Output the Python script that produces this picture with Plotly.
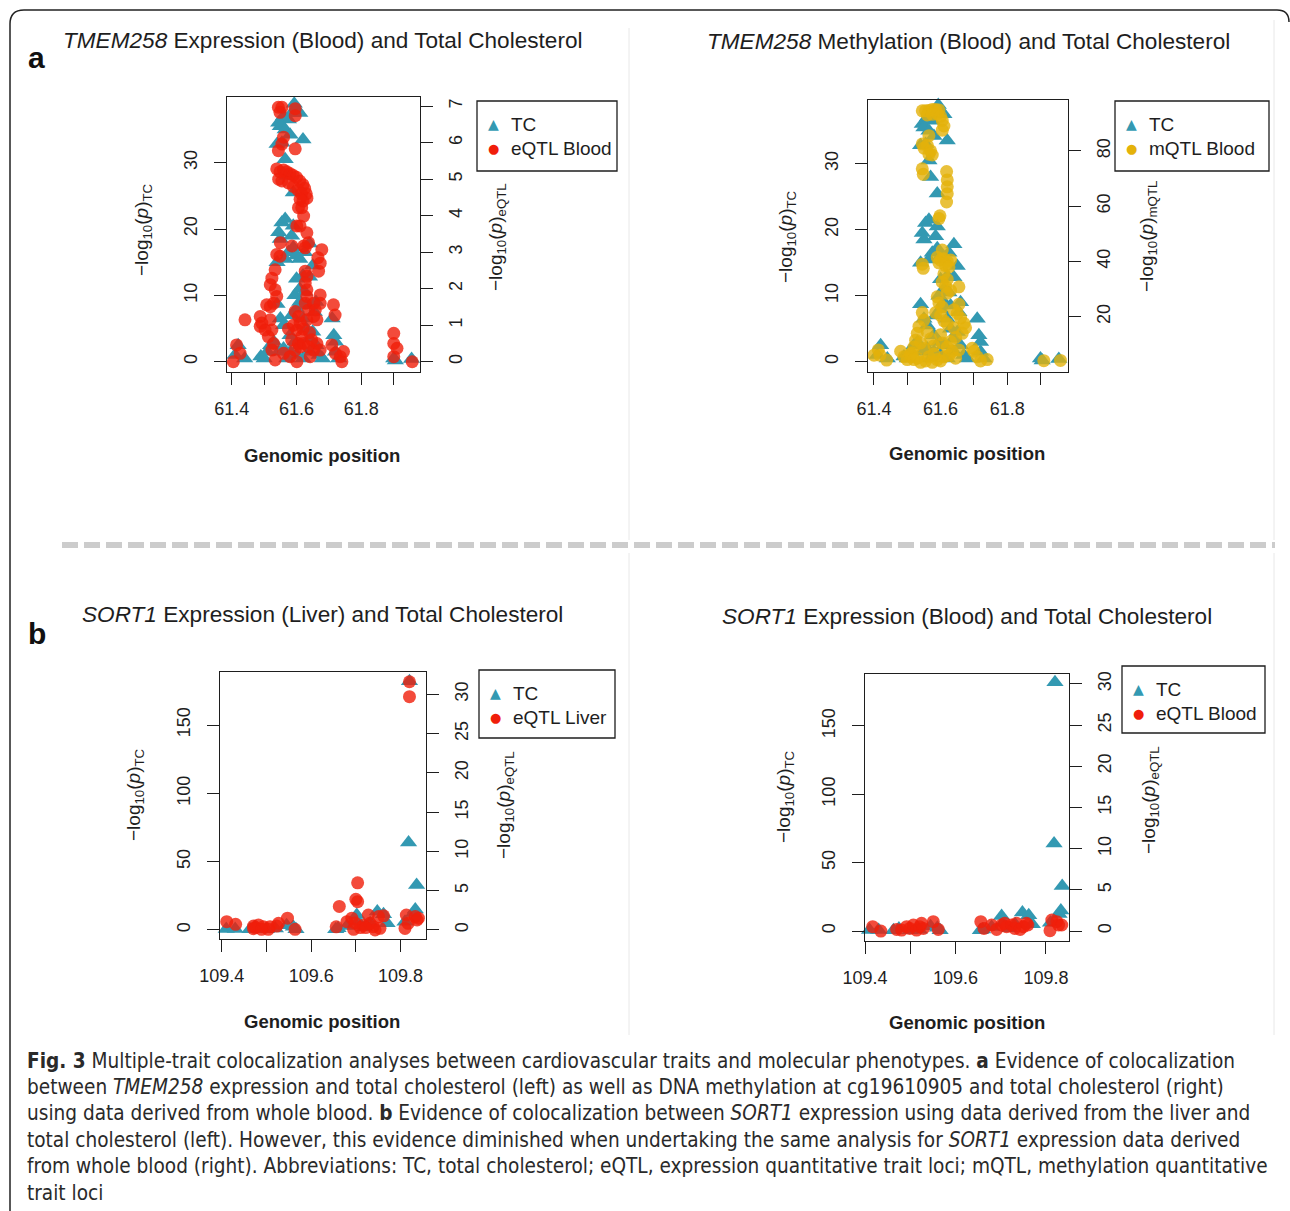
import plotly.graph_objects as go

W, H = 1290, 1211
def X(px): return px / W
def Y(py): return 1 - py / H

FONT = "Liberation Sans, Arial, Helvetica, sans-serif"
CAPFONT = "DejaVu Sans Condensed, Liberation Sans Narrow, sans-serif"
TEAL = "#3399B2"
RED = "#F01E0A"
GOLD = "#E4B20A"
INK = "#1e1e1e"

# ---------------- data ----------------
# TMEM258 region (chr position in Mb), total cholesterol -log10(p)
tmem_tc_pos = [61.593, 61.600, 61.585, 61.560, 61.575, 61.545, 61.550, 61.565, 61.580, 61.610,
               61.620, 61.540, 61.555, 61.565, 61.570, 61.590, 61.555, 61.565, 61.545, 61.550,
               61.590, 61.585, 61.590, 61.575, 61.565, 61.540, 61.600, 61.610, 61.625, 61.640,
               61.650, 61.620, 61.600, 61.640, 61.595, 61.610, 61.600, 61.540, 61.630, 61.655,
               61.660, 61.585, 61.620, 61.550, 61.560, 61.630, 61.650, 61.710, 61.715, 61.720,
               61.720, 61.730, 61.420, 61.410, 61.440, 61.490, 61.500, 61.510, 61.520, 61.530,
               61.545, 61.560, 61.570, 61.580, 61.595, 61.600, 61.610, 61.620, 61.640, 61.660,
               61.670, 61.680, 61.900, 61.905, 61.955, 61.640, 61.580, 61.610, 61.625]
tmem_tc_val = [38.9, 38.0, 37.5, 37.0, 36.5, 36.0, 35.5, 35.0, 34.2, 37.5,
               33.5, 32.8, 33.0, 30.5, 28.0, 25.5, 21.0, 21.5, 19.5, 18.5,
               20.5, 19.0, 17.2, 16.5, 15.5, 15.0, 16.0, 15.5, 16.5, 17.8,
               14.5, 13.0, 12.5, 12.8, 10.0, 9.0, 8.0, 8.7, 8.5, 7.5,
               9.0, 7.0, 6.5, 6.5, 5.5, 5.0, 4.5, 6.5, 4.0, 3.0,
               1.5, 0.5, 2.5, 1.0, 0.5, 0.8, 0.5, 1.5, 2.5, 3.0,
               1.5, 2.0, 0.5, 1.5, 3.0, 1.0, 2.5, 0.5, 1.5, 2.5,
               1.0, 0.5, 0.5, 0.2, 0.4, 3.5, 4.0, 11.0, 10.5]

# TMEM258 eQTL (blood) -log10(p)
tmem_eqtl_pos = [61.544, 61.555, 61.549, 61.596, 61.596, 61.560, 61.555, 61.544, 61.596, 61.539,
                 61.549, 61.560, 61.570, 61.580, 61.590, 61.600, 61.610, 61.620, 61.625, 61.630,
                 61.632, 61.545, 61.555, 61.575, 61.590, 61.605, 61.615, 61.620, 61.611, 61.616,
                 61.606, 61.622, 61.601, 61.611, 61.632, 61.637, 61.627, 61.678, 61.673, 61.668,
                 61.666, 61.550, 61.539, 61.534, 61.524, 61.519, 61.534, 61.539, 61.529, 61.508,
                 61.519, 61.627, 61.632, 61.627, 61.632, 61.632, 61.627, 61.637, 61.653, 61.658,
                 61.673, 61.673, 61.653, 61.632, 61.663, 61.596, 61.606, 61.611, 61.601, 61.616,
                 61.606, 61.488, 61.493, 61.488, 61.503, 61.519, 61.524, 61.513, 61.529, 61.524,
                 61.534, 61.441, 61.415, 61.426, 61.405, 61.560, 61.580, 61.601, 61.596, 61.611,
                 61.622, 61.637, 61.647, 61.653, 61.663, 61.673, 61.642, 61.709, 61.714, 61.719,
                 61.720, 61.735, 61.745, 61.740, 61.900, 61.900, 61.910, 61.900, 61.957, 61.549,
                 61.586, 61.622, 61.585, 61.590, 61.575, 61.620, 61.640]
tmem_eqtl_val = [6.97, 6.97, 6.83, 6.93, 6.74, 6.15, 5.96, 5.78, 5.83, 5.28,
                 5.20, 5.25, 5.20, 5.15, 5.10, 5.05, 4.95, 4.85, 4.75, 4.60,
                 4.48, 5.00, 4.95, 4.90, 4.80, 4.70, 4.60, 4.40, 4.45, 4.22,
                 4.22, 3.99, 3.72, 3.72, 3.53, 3.26, 3.12, 3.07, 2.70, 2.48,
                 2.85, 3.26, 2.94, 2.52, 2.29, 2.11, 1.97, 1.79, 1.60, 1.56,
                 1.51, 2.48, 2.34, 2.16, 1.97, 1.79, 1.60, 1.42, 1.60, 1.42,
                 1.83, 1.60, 1.24, 1.15, 1.15, 1.38, 1.24, 1.06, 0.87, 0.69,
                 0.50, 1.24, 1.06, 0.97, 0.87, 1.15, 0.87, 0.69, 0.50, 0.32,
                 0.05, 1.15, 0.46, 0.23, 0.00, 0.23, 0.14, 0.00, 0.32, 0.41,
                 0.50, 0.41, 0.60, 0.32, 0.50, 0.32, 0.14, 0.46, 1.56, 1.28,
                 0.23, 0.14, 0.28, 0.00, 0.78, 0.50, 0.37, 0.14, 0.00, 2.89,
                 3.17, 3.17, 0.60, 1.00, 0.90, 0.90, 0.80]

# TMEM258 mQTL (blood, cg19610905) -log10(p)
tmem_mqtl_pos = [61.545, 61.555, 61.565, 61.575, 61.585, 61.595, 61.560, 61.575, 61.590, 61.600,
                 61.605, 61.610, 61.605, 61.565, 61.545, 61.550, 61.560, 61.570, 61.575, 61.565,
                 61.545, 61.548, 61.618, 61.620, 61.620, 61.620, 61.618, 61.598, 61.595, 61.605,
                 61.590, 61.600, 61.610, 61.620, 61.630, 61.595, 61.615, 61.625, 61.545, 61.548,
                 61.610, 61.620, 61.605, 61.615, 61.630, 61.620, 61.655, 61.590, 61.595, 61.605,
                 61.600, 61.610, 61.585, 61.620, 61.650, 61.660, 61.670, 61.675, 61.665, 61.640,
                 61.645, 61.630, 61.600, 61.605, 61.580, 61.570, 61.550, 61.545, 61.535, 61.530,
                 61.525, 61.520, 61.515, 61.510, 61.413, 61.418, 61.438, 61.400, 61.480, 61.490,
                 61.500, 61.510, 61.520, 61.530, 61.540, 61.555, 61.565, 61.575, 61.590, 61.600,
                 61.610, 61.625, 61.635, 61.645, 61.655, 61.695, 61.700, 61.710, 61.720, 61.740,
                 61.910, 61.960, 61.540, 61.550, 61.560, 61.580, 61.620, 61.640, 61.655]
tmem_mqtl_val = [94.5, 94.5, 94.6, 95.0, 95.0, 94.8, 93.0, 93.2, 93.5, 92.5,
                 91.0, 89.0, 87.5, 85.5, 82.5, 81.0, 82.0, 80.0, 78.5, 78.8,
                 73.5, 71.5, 72.5, 69.5, 67.0, 64.5, 61.5, 56.5, 55.5, 44.1,
                 41.5, 40.5, 41.0, 40.0, 40.5, 39.5, 38.5, 38.0, 39.0, 37.5,
                 35.5, 33.5, 32.5, 31.0, 29.5, 28.5, 30.8, 27.2, 25.0, 23.5,
                 20.5, 18.5, 21.5, 17.5, 21.2, 19.5, 17.6, 16.0, 14.0, 16.0,
                 12.5, 11.0, 13.5, 10.5, 9.5, 12.0, 18.8, 21.5, 16.5, 14.0,
                 11.5, 9.0, 7.0, 5.5, 8.0, 6.1, 4.3, 6.1, 7.5, 5.5,
                 4.5, 6.5, 4.5, 5.0, 3.5, 4.0, 5.5, 3.5, 4.5, 4.0,
                 5.5, 6.0, 7.5, 5.0, 8.0, 8.6, 7.5, 5.5, 4.0, 4.5,
                 4.1, 4.2, 10.5, 8.5, 14.5, 6.5, 9.0, 22.5, 24.5]

# SORT1 region, total cholesterol -log10(p)
sort_tc_pos = [109.410, 109.430, 109.463, 109.475, 109.500, 109.520, 109.545, 109.560, 109.566, 109.655,
               109.660, 109.680, 109.702, 109.705, 109.720, 109.732, 109.748, 109.762, 109.770, 109.810,
               109.818, 109.820, 109.829, 109.833, 109.836]
sort_tc_val = [0.8, 0.8, 0.5, 1.8, 0.5, 1.0, 3.5, 2.4, 0.5, 0.5,
               1.2, 3.0, 11.0, 6.0, 2.0, 4.9, 13.5, 11.5, 5.0, 6.0,
               64.0, 182.0, 12.5, 15.0, 33.0]

# SORT1 eQTL (liver)
sort_liver_pos = [109.820, 109.820, 109.704, 109.700, 109.704, 109.663, 109.547, 109.411, 109.431, 109.471,
                  109.475, 109.482, 109.493, 109.508, 109.523, 109.527, 109.471, 109.504, 109.489, 109.564,
                  109.656, 109.680, 109.691, 109.695, 109.717, 109.728, 109.732, 109.739, 109.743, 109.751,
                  109.754, 109.762, 109.813, 109.833, 109.837, 109.840, 109.810, 109.817, 109.698, 109.710,
                  109.722]
sort_liver_val = [31.6, 29.7, 6.0, 3.9, 3.6, 3.0, 1.5, 1.06, 0.72, 0.50,
                  0.30, 0.64, 0.42, 0.42, 0.50, 0.85, 0.17, 0.08, 0.08, 0.08,
                  0.40, 1.06, 1.50, 0.08, 0.60, 1.90, 0.85, 0.42, 0.00, 1.70,
                  0.21, 1.80, 1.90, 1.70, 1.27, 1.50, 0.20, 0.85, 0.90, 0.30,
                  0.30]

# SORT1 eQTL (blood)
sort_blood_pos = [109.417, 109.435, 109.470, 109.481, 109.492, 109.499, 109.507, 109.514, 109.521, 109.529,
                  109.525, 109.551, 109.562, 109.656, 109.663, 109.680, 109.691, 109.702, 109.709, 109.713,
                  109.724, 109.731, 109.735, 109.743, 109.750, 109.757, 109.760, 109.809, 109.813, 109.824,
                  109.828, 109.835]
sort_blood_val = [0.53, 0.00, 0.20, 0.12, 0.53, 0.32, 0.73, 0.12, 0.53, 0.32,
                  0.93, 1.13, 0.20, 1.13, 0.32, 0.73, 0.20, 0.73, 0.93, 0.53,
                  0.73, 0.32, 0.93, 0.20, 0.53, 0.93, 0.73, 0.04, 1.34, 1.13,
                  0.73, 0.73]

tmem_xticks = [61.4, 61.5, 61.6, 61.7, 61.8, 61.9]
tmem_xlabels = ["61.4", "", "61.6", "", "61.8", ""]
sort_xticks = [109.4, 109.5, 109.6, 109.7, 109.8]
sort_xlabels = ["109.4", "", "109.6", "", "109.8"]

panels = [
    dict(box=(227, 420, 97, 372), xr=[61.3855, 61.981], xt=tmem_xticks, xl=tmem_xlabels,
         yl=[-1.55, 39.9], ylt=[0, 10, 20, 30], yr=[-0.28, 7.25], yrt=[0, 1, 2, 3, 4, 5, 6, 7],
         tc=(tmem_tc_pos, tmem_tc_val), q=(tmem_eqtl_pos, tmem_eqtl_val), qcol=RED,
         title="<i>TMEM258</i> Expression (Blood) and Total Cholesterol", tpos=(323, 40),
         rlab="eQTL", ltitle=(143, 230), rtitle=(497, 237), gpos=(322, 455),
         leg=(477, 617, 101, 171), legname="eQTL Blood"),
    dict(box=(868, 1068, 100, 372), xr=[61.382, 61.9826], xt=tmem_xticks, xl=tmem_xlabels,
         yl=[-1.56, 39.65], ylt=[0, 10, 20, 30], yr=[0.0, 98.4], yrt=[20, 40, 60, 80],
         tc=(tmem_tc_pos, tmem_tc_val), q=(tmem_mqtl_pos, tmem_mqtl_val), qcol=GOLD,
         title="<i>TMEM258</i> Methylation (Blood) and Total Cholesterol", tpos=(968, 42),
         rlab="mQTL", ltitle=(787, 237), rtitle=(1148, 237), gpos=(967, 453),
         leg=(1115, 1269, 101, 171), legname="mQTL Blood"),
    dict(box=(220, 426, 672, 939), xr=[109.396, 109.857], xt=sort_xticks, xl=sort_xlabels,
         yl=[-6.6, 188.8], ylt=[0, 50, 100, 150], yr=[-1.15, 32.84], yrt=[0, 5, 10, 15, 20, 25, 30],
         tc=(sort_tc_pos, sort_tc_val), q=(sort_liver_pos, sort_liver_val), qcol=RED,
         title="<i>SORT1</i> Expression (Liver) and Total Cholesterol", tpos=(322, 614),
         rlab="eQTL", ltitle=(135, 795), rtitle=(505, 805), gpos=(322, 1021),
         leg=(479, 615, 670, 738), legname="eQTL Liver"),
    dict(box=(865, 1069, 674, 941), xr=[109.4, 109.851], xt=sort_xticks, xl=sort_xlabels,
         yl=[-7.3, 188.0], ylt=[0, 50, 100, 150], yr=[-1.21, 31.2], yrt=[0, 5, 10, 15, 20, 25, 30],
         tc=(sort_tc_pos, sort_tc_val), q=(sort_blood_pos, sort_blood_val), qcol=RED,
         title="<i>SORT1</i> Expression (Blood) and Total Cholesterol", tpos=(967, 616),
         rlab="eQTL", ltitle=(785, 797), rtitle=(1150, 800), gpos=(967, 1022),
         leg=(1122, 1265, 666, 733), legname="eQTL Blood"),
]

fig = go.Figure()
layout = {}
annotations = []
shapes = []

tickfont = dict(family=FONT, size=18, color=INK)

for i, p in enumerate(panels):
    l, r, t, b = p["box"]
    xn = "xaxis" if i == 0 else f"xaxis{i+1}"
    xref = "x" if i == 0 else f"x{i+1}"
    yl_idx, yr_idx = 2 * i + 1, 2 * i + 2
    yln = "yaxis" if yl_idx == 1 else f"yaxis{yl_idx}"
    ylref = "y" if yl_idx == 1 else f"y{yl_idx}"
    yrn = f"yaxis{yr_idx}"
    yrref = f"y{yr_idx}"

    layout[xn] = dict(domain=[X(l), X(r)], range=p["xr"], anchor=ylref, automargin=False,
                      tickmode="array", tickvals=p["xt"], ticktext=p["xl"],
                      ticks="outside", ticklen=12, tickwidth=1.2, tickcolor=INK,
                      showline=True, linecolor=INK, linewidth=1.2, mirror=True,
                      showgrid=False, zeroline=False, tickfont=tickfont,
                      ticklabelstandoff=8)
    layout[yln] = dict(domain=[Y(b), Y(t)], range=p["yl"], anchor=xref, side="left",
                       automargin=False,
                       tickmode="array", tickvals=p["ylt"], tickangle=-90,
                       ticks="outside", ticklen=12, tickwidth=1.2, tickcolor=INK,
                       showline=True, linecolor=INK, linewidth=1.2, mirror=True,
                       showgrid=False, zeroline=False, tickfont=tickfont,
                       ticklabelstandoff=10)
    layout[yrn] = dict(overlaying=ylref, anchor=xref, side="right", range=p["yr"],
                       automargin=False,
                       tickmode="array", tickvals=p["yrt"], tickangle=-90,
                       ticks="outside", ticklen=12, tickwidth=1.2, tickcolor=INK,
                       showline=False, showgrid=False, zeroline=False, tickfont=tickfont,
                       ticklabelstandoff=7)

    fig.add_trace(go.Scatter(x=p["tc"][0], y=p["tc"][1], mode="markers",
                             marker=dict(symbol="triangle-up", size=15, color=TEAL,
                                         line=dict(width=0)),
                             xaxis=xref, yaxis=ylref, showlegend=False, cliponaxis=False,
                             name="TC"))
    fig.add_trace(go.Scatter(x=p["q"][0], y=p["q"][1], mode="markers",
                             marker=dict(symbol="circle", size=13, color=p["qcol"],
                                         opacity=0.8, line=dict(width=0)),
                             xaxis=xref, yaxis=yrref, showlegend=False, cliponaxis=False,
                             name=p["legname"]))

    # titles
    annotations.append(dict(text=p["title"], x=X(p["tpos"][0]), y=Y(p["tpos"][1]),
                            xref="paper", yref="paper", showarrow=False,
                            xanchor="center", yanchor="middle",
                            font=dict(family=FONT, size=22.6, color=INK)))
    annotations.append(dict(text="−log<sub>10</sub>(<i>p</i>)<sub>TC</sub>",
                            x=X(p["ltitle"][0]), y=Y(p["ltitle"][1]), xref="paper", yref="paper",
                            showarrow=False, textangle=-90, xanchor="center", yanchor="middle",
                            font=dict(family=FONT, size=19, color=INK)))
    annotations.append(dict(text=f"−log<sub>10</sub>(<i>p</i>)<sub>{p['rlab']}</sub>",
                            x=X(p["rtitle"][0]), y=Y(p["rtitle"][1]), xref="paper", yref="paper",
                            showarrow=False, textangle=-90, xanchor="center", yanchor="middle",
                            font=dict(family=FONT, size=19, color=INK)))
    annotations.append(dict(text="<b>Genomic position</b>", x=X(p["gpos"][0]), y=Y(p["gpos"][1]),
                            xref="paper", yref="paper", showarrow=False,
                            xanchor="center", yanchor="middle",
                            font=dict(family=FONT, size=18.5, color=INK)))
    # legend box
    ll, lr, lt, lb = p["leg"]
    shapes.append(dict(type="rect", xref="paper", yref="paper", x0=X(ll), x1=X(lr),
                       y0=Y(lb), y1=Y(lt), line=dict(color=INK, width=1.3),
                       fillcolor="white", layer="above"))
    row1 = lt + 23
    row2 = lt + 47
    annotations.append(dict(text="▲", x=X(ll + 16), y=Y(row1), xref="paper", yref="paper",
                            showarrow=False, xanchor="center", yanchor="middle",
                            font=dict(family="DejaVu Sans", size=14, color=TEAL)))
    annotations.append(dict(text="●", x=X(ll + 16), y=Y(row2), xref="paper", yref="paper",
                            showarrow=False, xanchor="center", yanchor="middle",
                            font=dict(family="DejaVu Sans", size=13, color=p["qcol"])))
    annotations.append(dict(text="TC", x=X(ll + 32), y=Y(row1), xref="paper", yref="paper",
                            showarrow=False, xanchor="left", yanchor="middle",
                            font=dict(family=FONT, size=19, color=INK)))
    annotations.append(dict(text=p["legname"], x=X(ll + 32), y=Y(row2), xref="paper", yref="paper",
                            showarrow=False, xanchor="left", yanchor="middle",
                            font=dict(family=FONT, size=19, color=INK)))

# panel letters
for letter, (lx, ly) in (("a", (36, 57)), ("b", (37, 634))):
    annotations.append(dict(text=f"<b>{letter}</b>", x=X(lx), y=Y(ly), xref="paper", yref="paper",
                            showarrow=False, xanchor="center", yanchor="middle",
                            font=dict(family=FONT, size=30, color="#111")))

# caption
caption_lines = [
    "<b>Fig. 3</b> Multiple-trait colocalization analyses between cardiovascular traits and molecular phenotypes. <b>a</b> Evidence of colocalization",
    "between <i>TMEM258</i> expression and total cholesterol (left) as well as DNA methylation at cg19610905 and total cholesterol (right)",
    "using data derived from whole blood. <b>b</b> Evidence of colocalization between <i>SORT1</i> expression using data derived from the liver and",
    "total cholesterol (left). However, this evidence diminished when undertaking the same analysis for <i>SORT1</i> expression data derived",
    "from whole blood (right). Abbreviations: TC, total cholesterol; eQTL, expression quantitative trait loci; mQTL, methylation quantitative",
    "trait loci",
]
caption_y = [1061, 1087, 1113, 1140, 1166, 1193]
for txt, cy in zip(caption_lines, caption_y):
    annotations.append(dict(text=txt, x=X(25), y=Y(cy), xref="paper", yref="paper",
                            showarrow=False, xanchor="left", yanchor="middle",
                            font=dict(family=CAPFONT, size=20.6, color="#2a2a2a")))

# border with rounded top corners
border = (f"M {X(10)},{Y(1215)} L {X(10)},{Y(24)} Q {X(10)},{Y(10)} {X(24)},{Y(10)} "
          f"L {X(1277)},{Y(10)} Q {X(1289)},{Y(10)} {X(1289)},{Y(22)}")
shapes.append(dict(type="path", xref="paper", yref="paper", path=border,
                   line=dict(color="#222", width=1.5)))
# dashed separator
shapes.append(dict(type="line", xref="paper", yref="paper", x0=X(62), x1=X(1275),
                   y0=Y(545), y1=Y(545), line=dict(color="#cccccc", width=6, dash="16px,6px")))
# faint panel separators
for (x0, y0, y1) in ((629, 28, 540), (629, 553, 1035), (1274, 20, 540), (1274, 553, 1035)):
    shapes.append(dict(type="line", xref="paper", yref="paper", x0=X(x0), x1=X(x0),
                       y0=Y(y0), y1=Y(y1), line=dict(color="#e8e8e8", width=1)))

fig.update_layout(**layout)
fig.update_layout(width=W, height=H,
                  margin=dict(l=0, r=0, t=0, b=0, pad=0, autoexpand=False),
                  paper_bgcolor="white", plot_bgcolor="white",
                  annotations=annotations, shapes=shapes, showlegend=False,
                  font=dict(family=FONT, color=INK))

fig.write_html("out.html", config={"displayModeBar": False},
               post_script="document.body.style.margin='0';document.body.style.overflow='hidden';")
